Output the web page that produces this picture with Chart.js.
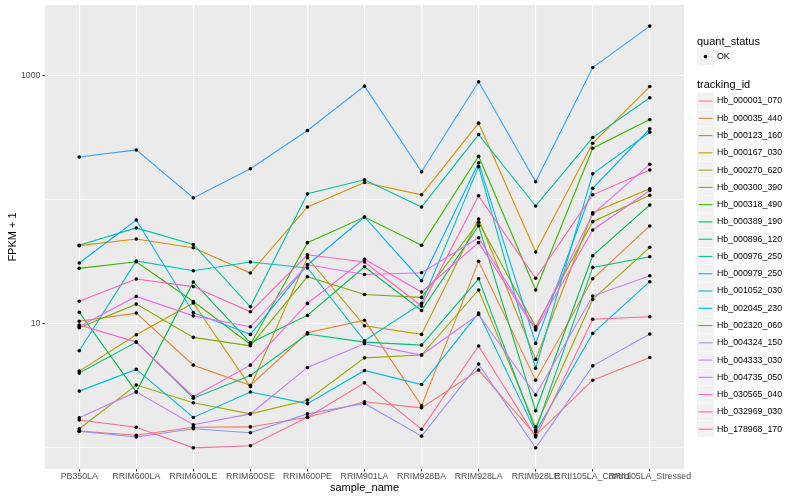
<!DOCTYPE html>
<html>
<head>
<meta charset="utf-8">
<script src="https://cdn.jsdelivr.net/npm/chart.js@4.4.1/dist/chart.umd.min.js"></script>
<style>
  html, body { margin: 0; padding: 0; background: #fff; }
  #chart { display: block; }
</style>
</head>
<body>
<canvas id="chart" width="800" height="500"></canvas>
<script>
// Samples on the x axis
const categories = ['PB350LA', 'RRIM600LA', 'RRIM600LE', 'RRIM600SE', 'RRIM600PE', 'RRIM901LA',
    'RRIM928BA', 'RRIM928LA', 'RRIM928LE', 'RRII105LA_Control', 'RRII105LA_Stressed'];

// FPKM + 1 per tracking_id, one value per sample
const hb_000001_070 = [1.35, 1.25, 1.45, 1.46, 1.75, 2.33, 2.08, 4.2, 1.25, 3.48, 5.31];
const hb_000035_440 = [10.4, 12.1, 4.6, 3.16, 8.39, 10.6, 2.16, 31.7, 3.48, 22.9, 61.1];
const hb_000123_160 = [42.4, 48.0, 40.8, 25.5, 86.9, 137, 109, 413, 37.7, 284, 815];
const hb_000167_030 = [4.12, 8.09, 14.6, 3.08, 33.9, 9.57, 8.15, 69.6, 5.12, 78.2, 122];
const hb_000270_620 = [1.41, 3.18, 2.29, 1.86, 2.40, 5.27, 5.55, 18.6, 1.46, 15.6, 41.1];
const hb_000300_390 = [9.21, 14.3, 7.71, 6.59, 23.8, 17.1, 16.2, 65.5, 9.39, 66.2, 108];
const hb_000318_490 = [27.8, 31.4, 15.0, 6.76, 44.8, 72.2, 42.7, 223, 18.6, 259, 441];
const hb_000389_190 = [12.3, 2.80, 21.6, 6.97, 11.6, 28.6, 12.7, 61.4, 1.97, 35.2, 90.3];
const hb_000896_120 = [3.97, 7.06, 2.49, 3.80, 8.20, 7.06, 6.68, 22.9, 1.37, 28.3, 34.5];
const hb_000976_250 = [42.7, 58.9, 43.3, 13.6, 111, 144, 86.9, 334, 88.6, 316, 661];
const hb_000979_250 = [6.01, 31.9, 26.6, 31.3, 28.0, 7.24, 14.5, 184, 4.35, 161, 349];
const hb_001052_030 = [2.84, 4.25, 1.74, 2.79, 2.25, 4.17, 3.21, 12.1, 1.33, 8.30, 21.7];
const hb_002045_230 = [30.7, 68.3, 12.2, 8.15, 29.6, 72.2, 22.1, 198, 6.89, 123, 371];
const hb_002320_060 = [220, 251, 103, 177, 360, 821, 167, 890, 139, 1160, 2506];
const hb_004324_150 = [1.35, 1.21, 1.41, 1.31, 1.86, 2.26, 1.23, 4.69, 0.99, 4.54, 8.20];
const hb_004333_030 = [1.73, 2.80, 1.52, 1.86, 4.41, 6.84, 5.55, 11.8, 2.64, 16.6, 24.2];
const hb_004735_050 = [9.42, 16.5, 11.5, 9.39, 29.7, 24.8, 25.6, 49.1, 9.04, 76.3, 192];
const hb_030565_040 = [9.69, 7.06, 2.56, 4.60, 14.5, 32.9, 17.9, 44.8, 8.83, 56.7, 118];
const hb_032969_030 = [15.1, 22.8, 19.8, 12.4, 35.8, 31.3, 13.8, 107, 23.1, 109, 173];
const hb_178968_170 = [1.66, 1.45, 0.99, 1.03, 1.75, 3.31, 1.40, 6.56, 1.21, 10.8, 11.3];

const trackingIds = ['Hb_000001_070', 'Hb_000035_440', 'Hb_000123_160', 'Hb_000167_030', 'Hb_000270_620',
    'Hb_000300_390', 'Hb_000318_490', 'Hb_000389_190', 'Hb_000896_120', 'Hb_000976_250',
    'Hb_000979_250', 'Hb_001052_030', 'Hb_002045_230', 'Hb_002320_060', 'Hb_004324_150',
    'Hb_004333_030', 'Hb_004735_050', 'Hb_030565_040', 'Hb_032969_030', 'Hb_178968_170'];
const seriesValues = [hb_000001_070, hb_000035_440, hb_000123_160, hb_000167_030, hb_000270_620,
    hb_000300_390, hb_000318_490, hb_000389_190, hb_000896_120, hb_000976_250,
    hb_000979_250, hb_001052_030, hb_002045_230, hb_002320_060, hb_004324_150,
    hb_004333_030, hb_004735_050, hb_030565_040, hb_032969_030, hb_178968_170];

// y axis breaks
const yTickLabels = [10, 1000];
const yMinorBreaks = [1, 100];

// ggplot default hue palette for 20 groups
const palette = ['#F8766D', '#EA8331', '#D89000', '#C09B00', '#A3A500', '#7CAE00', '#39B600', '#00BB4E',
    '#00BF7D', '#00C1A3', '#00BFC4', '#00BAE0', '#00B0F6', '#35A2FF', '#9590FF', '#C77CFF',
    '#E76BF3', '#FA62DB', '#FF62BC', '#FF6C91'];

const FONT = "'Liberation Sans', Arial, Helvetica, sans-serif";

const lineSets = seriesValues.map((vals, i) => ({
    label: trackingIds[i],
    data: vals.map((v, j) => ({ x: j, y: v })),
    borderColor: palette[i],
    borderWidth: 1.1,
    pointRadius: 0,
    tension: 0,
    fill: false,
    order: 100 - i
}));

const pointSet = {
    label: 'OK',
    data: seriesValues.flatMap(vals => vals.map((v, j) => ({ x: j, y: v }))),
    showLine: false,
    pointRadius: 1.8,
    pointBackgroundColor: '#000',
    pointBorderColor: '#000',
    pointBorderWidth: 0,
    order: 0
};

// grey panel like theme_grey
const panelBackground = {
    id: 'panelBackground',
    beforeDraw(chart) {
        const { ctx, chartArea: a } = chart;
        ctx.save();
        ctx.fillStyle = '#fff';
        ctx.fillRect(0, 0, chart.width, chart.height);
        ctx.fillStyle = '#EBEBEB';
        ctx.fillRect(a.left, a.top, a.right - a.left, a.bottom - a.top);
        ctx.restore();
    }
};

// axis titles and the two legends
const ggLegend = {
    id: 'ggLegend',
    afterDraw(chart) {
        const { ctx, chartArea: a } = chart;
        ctx.save();
        ctx.fillStyle = '#000';
        ctx.textBaseline = 'middle';

        ctx.font = '11px ' + FONT;
        ctx.textAlign = 'center';
        ctx.fillText('sample_name', (a.left + a.right) / 2, 487.5);
        ctx.save();
        ctx.translate(13, (a.top + a.bottom) / 2);
        ctx.rotate(-Math.PI / 2);
        ctx.fillText('FPKM + 1', 0, 0);
        ctx.restore();

        const x0 = 697, kw = 17, kh = 17.27;
        ctx.textAlign = 'left';
        ctx.font = '11px ' + FONT;
        ctx.fillText('quant_status', x0, 41.5);

        ctx.fillStyle = '#F2F2F2';
        ctx.fillRect(x0, 48, kw, kh);
        ctx.fillStyle = '#000';
        ctx.beginPath();
        ctx.arc(x0 + kw / 2, 48 + kh / 2, 1.8, 0, Math.PI * 2);
        ctx.fill();
        ctx.font = '8.8px ' + FONT;
        ctx.fillText('OK', x0 + 20, 48 + kh / 2);

        ctx.font = '11px ' + FONT;
        ctx.fillText('tracking_id', x0, 85);

        trackingIds.forEach((id, i) => {
            const top = 92.4 + i * kh;
            const cy = top + kh / 2;
            ctx.fillStyle = '#F2F2F2';
            ctx.fillRect(x0, top, kw, kh - 0.6);
            ctx.strokeStyle = palette[i];
            ctx.lineWidth = 1.1;
            ctx.beginPath();
            ctx.moveTo(x0 + 1.5, cy);
            ctx.lineTo(x0 + kw - 1.5, cy);
            ctx.stroke();
            ctx.fillStyle = '#000';
            ctx.font = '8.8px ' + FONT;
            ctx.fillText(id, x0 + 20, cy);
        });
        ctx.restore();
    }
};

const ctx = document.getElementById('chart').getContext('2d');
const chart = new Chart(ctx, {
    type: 'line',
    data: { datasets: [pointSet, ...lineSets] },
    plugins: [panelBackground, ggLegend],
    options: {
        responsive: false,
        animation: false,
        devicePixelRatio: 1,
        layout: { padding: { left: 0, right: 116, top: 5, bottom: 0 } },
        plugins: {
            legend: { display: false },
            tooltip: { enabled: false }
        },
        scales: {
            x: {
                type: 'linear',
                min: -0.6,
                max: categories.length - 1 + 0.6,
                afterBuildTicks: scale => {
                    scale.ticks = categories.map((c, i) => ({ value: i }));
                },
                afterFit: scale => {
                    scale.height = 31;
                    scale.paddingLeft = 0;
                    scale.paddingRight = 0;
                },
                ticks: {
                    autoSkip: false,
                    maxRotation: 0,
                    minRotation: 0,
                    padding: 0,
                    color: '#4D4D4D',
                    font: { family: FONT, size: 8.8 },
                    callback: value => categories[value]
                },
                grid: {
                    color: '#fff',
                    lineWidth: 1.1,
                    drawTicks: true,
                    tickLength: 2.5,
                    tickColor: '#333',
                    tickWidth: 1
                },
                border: { display: false }
            },
            y: {
                type: 'logarithmic',
                min: 0.668,
                max: 3709,
                afterBuildTicks: scale => {
                    scale.ticks = [...yMinorBreaks, ...yTickLabels].sort((p, q) => p - q).map(v => ({ value: v }));
                },
                afterFit: scale => {
                    scale.width = 45;
                    scale.paddingTop = 0;
                    scale.paddingBottom = 0;
                },
                ticks: {
                    padding: 2,
                    color: '#4D4D4D',
                    font: { family: FONT, size: 8.8 },
                    callback: value => yTickLabels.includes(value) ? String(value) : ''
                },
                grid: {
                    color: '#fff',
                    lineWidth: c => (c.tick && yTickLabels.includes(c.tick.value)) ? 1.1 : 0.55,
                    drawTicks: true,
                    tickLength: 2.5,
                    tickColor: c => (c.tick && yTickLabels.includes(c.tick.value)) ? '#333' : 'rgba(0,0,0,0)',
                    tickWidth: 1
                },
                border: { display: false }
            }
        }
    }
});
</script>
</body>
</html>
